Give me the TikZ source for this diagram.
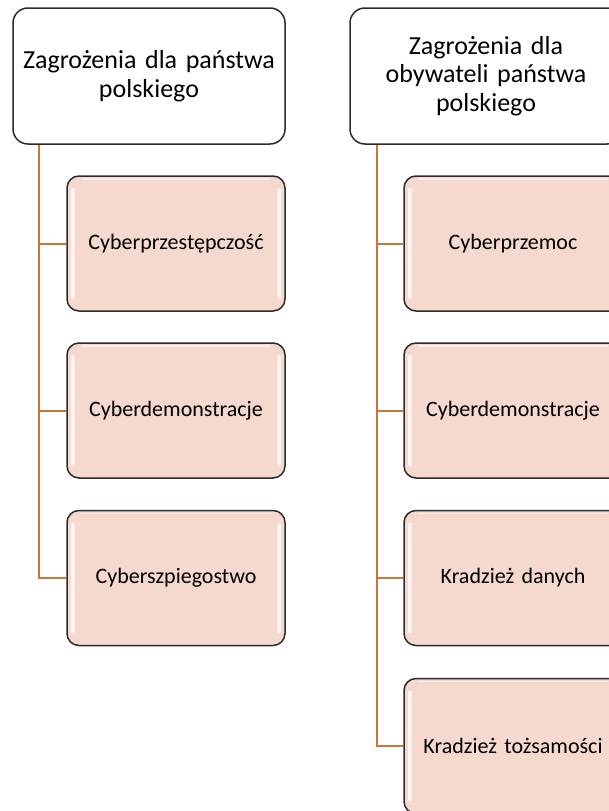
\documentclass[tikz,border=0pt]{standalone}
\usepackage{fontspec}
\setmainfont{Carlito}
\usetikzlibrary{calc}
\definecolor{boxline}{HTML}{2B2B2B}
\definecolor{itemfill}{HTML}{F5D8CE}
\definecolor{branch}{HTML}{C8743A}
\tikzset{
  x=1pt, y=-1pt,
  headbox/.style={draw=boxline, line width=1.5pt, fill=white, rounded corners=15pt,
    minimum width=272pt, minimum height=136pt, align=center, text width=262pt,
    font=\fontsize{26}{28.5}\selectfont, inner sep=0pt},
  itembox/.style={draw=boxline, line width=1.5pt, fill=itemfill, rounded corners=12pt,
    minimum width=218pt, minimum height=135pt, align=center, text width=212pt,
    font=\fontsize{22}{26}\selectfont, inner sep=0pt,
    path picture={
      \fill[white, opacity=.8, rounded corners=1.5pt]
        ([xshift=4pt,yshift=-12pt]path picture bounding box.north west) rectangle
        ([xshift=7.5pt,yshift=12pt]path picture bounding box.south west);
      \fill[white, opacity=.8, rounded corners=1.5pt]
        ([xshift=-4pt,yshift=-12pt]path picture bounding box.north east) rectangle
        ([xshift=-7.5pt,yshift=12pt]path picture bounding box.south east);
      \draw[white, opacity=.5, line width=1.5pt]
        ([xshift=14pt,yshift=-3pt]path picture bounding box.north west) --
        ([xshift=-14pt,yshift=-3pt]path picture bounding box.north east);
    }},
  branchline/.style={draw=branch, line width=2pt, line join=miter}
}
\begin{document}
\begin{tikzpicture}
\useasboundingbox (0,0) rectangle (608,811);

% left hierarchy
\node[headbox] (h1) at (149,76) {Zagrożenia dla państwa\\polskiego};
\node[itembox] (a1) at (176,243.5) {Cyberprzestępczość};
\node[itembox] (a2) at (176,410.5) {Cyberdemonstracje};
\node[itembox] (a3) at (176,578) {Cyberszpiegostwo};

% right hierarchy
\node[headbox] (h2) at (486,76) {Zagrożenia dla\\obywateli państwa\\polskiego};
\node[itembox] (b1) at (513,243.5) {Cyberprzemoc};
\node[itembox] (b2) at (513,410.5) {Cyberdemonstracje};
\node[itembox] (b3) at (513,578) {Kradzież danych};
\node[itembox] (b4) at (513,746) {Kradzież tożsamości};

% trunk points under each header
\coordinate (t1) at ($(h1.south west)+(27,0)$);
\coordinate (t2) at ($(h2.south west)+(28,0)$);

% connectors, one path per hierarchy
\draw[branchline] (t1) |- (a1.west) (t1) |- (a2.west) (t1) |- (a3.west);
\draw[branchline] (t2) |- (b1.west) (t2) |- (b2.west) (t2) |- (b3.west) (t2) |- (b4.west);
\end{tikzpicture}
\end{document}
